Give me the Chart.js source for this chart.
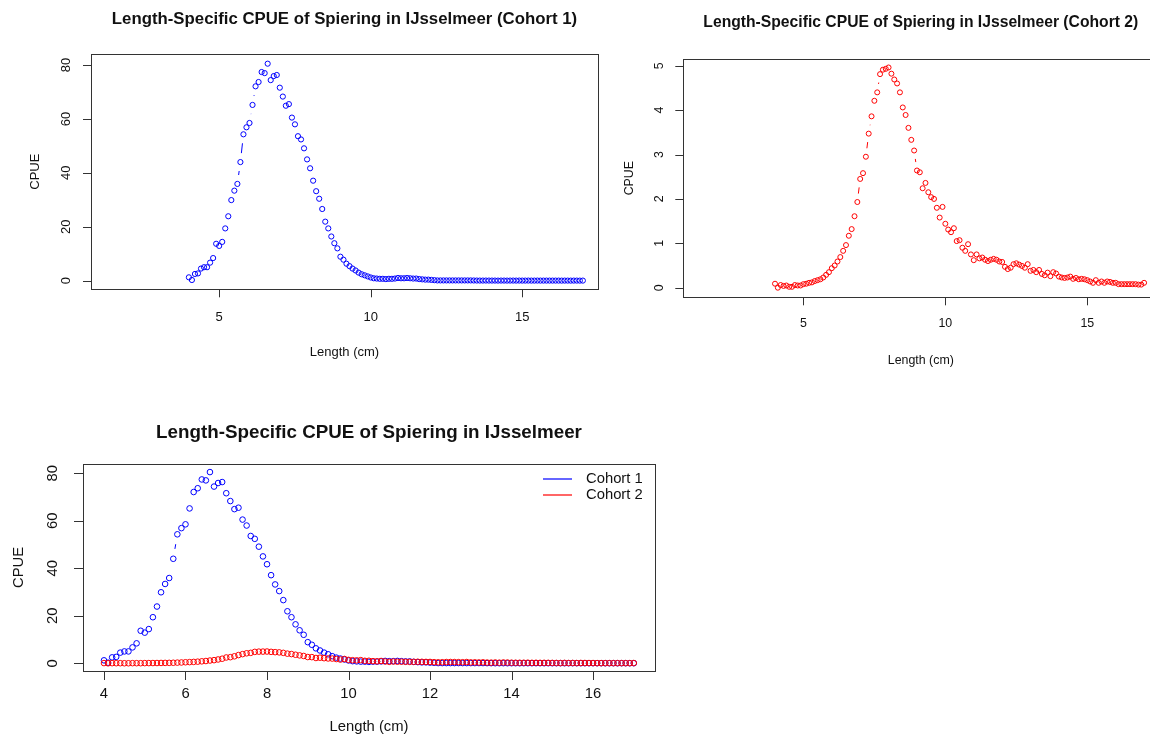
<!DOCTYPE html>
<html>
<head>
<meta charset="utf-8">
<script src="https://cdn.jsdelivr.net/npm/chart.js@4.4.1/dist/chart.umd.min.js"></script>
<style>
html, body { margin:0; padding:0; background:#fff; overflow:hidden; width:1150px; height:735px; }
canvas { position:absolute; left:0; top:0; }
</style>
</head>
<body>
<canvas id="c1" width="1150" height="735"></canvas>
<canvas id="c2" width="1180" height="735"></canvas>
<canvas id="c3" width="1150" height="735"></canvas>
<script>
// ---------------- data ----------------
const lengths = [
  4.0,4.1,4.2,4.3,4.4,4.5,4.6,4.7,4.8,4.9,
  5.0,5.1,5.2,5.3,5.4,5.5,5.6,5.7,5.8,5.9,
  6.0,6.1,6.2,6.3,6.4,6.5,6.6,6.7,6.8,6.9,
  7.0,7.1,7.2,7.3,7.4,7.5,7.6,7.7,7.8,7.9,
  8.0,8.1,8.2,8.3,8.4,8.5,8.6,8.7,8.8,8.9,
  9.0,9.1,9.2,9.3,9.4,9.5,9.6,9.7,9.8,9.9,
  10.0,10.1,10.2,10.3,10.4,10.5,10.6,10.7,10.8,10.9,
  11.0,11.1,11.2,11.3,11.4,11.5,11.6,11.7,11.8,11.9,
  12.0,12.1,12.2,12.3,12.4,12.5,12.6,12.7,12.8,12.9,
  13.0,13.1,13.2,13.3,13.4,13.5,13.6,13.7,13.8,13.9,
  14.0,14.1,14.2,14.3,14.4,14.5,14.6,14.7,14.8,14.9,
  15.0,15.1,15.2,15.3,15.4,15.5,15.6,15.7,15.8,15.9,
  16.0,16.1,16.2,16.3,16.4,16.5,16.6,16.7,16.8,16.9,
  17.0
];

const cpueCohort1 = [
  1.25,0.26,2.5,2.7,4.5,5.0,5.0,6.7,8.4,13.7,
  12.9,14.4,19.4,23.9,29.9,33.4,35.9,44.0,54.3,56.9,
  58.5,65.2,72.1,73.7,77.4,77.0,80.5,74.4,75.9,76.3,
  71.6,68.3,64.9,65.5,60.5,58.0,53.6,52.4,49.1,45.0,
  41.7,37.1,33.2,30.4,26.6,21.9,19.4,16.4,13.9,12.0,
  8.9,7.8,6.3,5.4,4.5,3.8,3.0,2.4,2.0,1.6,
  1.2,0.9,0.8,0.7,0.7,0.6,0.7,0.7,0.8,1.0,
  0.9,0.9,1.0,0.9,0.8,0.8,0.6,0.5,0.4,0.4,
  0.3,0.2,0.1,0.1,0.1,0.1,0.1,0.1,0.1,0.1,
  0.1,0.1,0.1,0.1,0.08,0.06,0.05,0.05,0.06,0.05,
  0.05,0.05,0.04,0.05,0.05,0.04,0.05,0.05,0.04,0.05,
  0.04,0.04,0.05,0.04,0.04,0.05,0.04,0.04,0.04,0.04,
  0.04,0.04,0.04,0.03,0.04,0.04,0.03,0.04,0.04,0.03,
  0.04
];

const cpueCohort2 = [
  0.09,0.00,0.06,0.04,0.05,0.02,0.02,0.06,0.05,0.05,
  0.08,0.09,0.11,0.12,0.15,0.17,0.19,0.23,0.29,0.35,
  0.44,0.50,0.59,0.69,0.83,0.96,1.17,1.32,1.61,1.93,
  2.45,2.58,2.95,3.47,3.86,4.21,4.40,4.81,4.91,4.93,
  4.96,4.82,4.69,4.60,4.40,4.06,3.89,3.60,3.33,3.09,
  2.64,2.60,2.24,2.36,2.15,2.04,2.00,1.80,1.58,1.82,
  1.44,1.31,1.25,1.34,1.05,1.07,0.90,0.83,0.98,0.75,
  0.62,0.75,0.66,0.68,0.63,0.60,0.63,0.65,0.63,
  0.59,0.58,0.47,0.42,0.45,0.53,0.55,0.52,0.49,0.45,0.53,
  0.38,0.40,0.35,0.40,0.31,0.28,0.34,0.26,0.35,0.32,
  0.25,0.23,0.22,0.23,0.25,0.20,0.22,0.19,0.20,0.19,
  0.17,0.14,0.11,0.17,0.11,0.14,0.11,0.14,0.13,0.11,
  0.11,0.08,0.08,0.08,0.08,0.08,0.08,0.08,0.07,0.07,0.11
];

const xTicksSingle = [5, 10, 15];
const xTicksCombined = [4, 6, 8, 10, 12, 14, 16];
const yTicksCohort1 = [0, 20, 40, 60, 80];
const yTicksCohort2 = [0, 1, 2, 3, 4, 5];

const titleCohort1 = 'Length-Specific CPUE of Spiering in IJsselmeer (Cohort 1)';
const titleCohort2 = 'Length-Specific CPUE of Spiering in IJsselmeer (Cohort 2)';
const titleCombined = 'Length-Specific CPUE of Spiering in IJsselmeer';
const xLabel = 'Length (cm)';
const yLabel = 'CPUE';
const seriesNames = ['Cohort 1', 'Cohort 2'];

const toXY = (vals) => lengths.map((x, i) => ({x: x, y: vals[i]}));

// ---------------- R-like frame plugin ----------------
function rFrame(cfg) {
  const FONT = '"Liberation Sans", Arial, sans-serif';
  return {
    id: 'rframe',
    beforeDatasetsDraw(chart) {
      const ctx = chart.ctx, a = chart.chartArea;
      const xs = chart.scales.x, ys = chart.scales.y;
      ctx.save();
      ctx.strokeStyle = '#333';
      ctx.lineWidth = 1;
      ctx.strokeRect(Math.round(a.left) + 0.5, Math.round(a.top) + 0.5,
                     Math.round(a.right - a.left), Math.round(a.bottom - a.top));
      ctx.beginPath();
      cfg.xTicks.forEach(v => {
        const px = Math.round(xs.getPixelForValue(v)) + 0.5;
        ctx.moveTo(px, a.bottom);
        ctx.lineTo(px, a.bottom + cfg.tickLen);
      });
      cfg.yTicks.forEach(v => {
        const py = Math.round(ys.getPixelForValue(v)) + 0.5;
        ctx.moveTo(a.left - cfg.tickLen, py);
        ctx.lineTo(a.left, py);
      });
      ctx.stroke();

      // type = "b": line pieces between points, cut back near each point
      ctx.beginPath();
      ctx.rect(a.left, a.top, a.right - a.left, a.bottom - a.top);
      ctx.clip();
      chart.data.datasets.forEach((ds, i) => {
        const pts = chart.getDatasetMeta(i).data;
        ctx.strokeStyle = ds.borderColor;
        ctx.beginPath();
        for (let j = 0; j < pts.length - 1; j++) {
          const p = pts[j], q = pts[j + 1];
          const dx = q.x - p.x, dy = q.y - p.y, d = Math.hypot(dx, dy);
          if (d <= 2 * cfg.gap) continue;
          const ux = dx / d, uy = dy / d;
          ctx.moveTo(p.x + ux * cfg.gap, p.y + uy * cfg.gap);
          ctx.lineTo(q.x - ux * cfg.gap, q.y - uy * cfg.gap);
        }
        ctx.stroke();
      });
      ctx.restore();
    },
    afterDraw(chart) {
      const ctx = chart.ctx, a = chart.chartArea;
      const xs = chart.scales.x, ys = chart.scales.y;
      const cx = (a.left + a.right) / 2, cy = (a.top + a.bottom) / 2;
      ctx.save();
      ctx.fillStyle = '#111';
      ctx.textBaseline = 'middle';
      ctx.textAlign = 'center';

      ctx.font = 'bold ' + cfg.titleSize + 'px ' + FONT;
      ctx.fillText(cfg.title, cx, cfg.titleY);

      ctx.font = cfg.labelSize + 'px ' + FONT;
      cfg.xTicks.forEach(v => ctx.fillText(String(v), xs.getPixelForValue(v), cfg.xTickY));
      ctx.fillText(xLabel, cx, cfg.xLabelY);

      cfg.yTicks.forEach(v => {
        ctx.save();
        ctx.translate(cfg.yTickX, ys.getPixelForValue(v));
        ctx.rotate(-Math.PI / 2);
        ctx.fillText(String(v), 0, 0);
        ctx.restore();
      });
      ctx.save();
      ctx.translate(cfg.yLabelX, cy);
      ctx.rotate(-Math.PI / 2);
      ctx.fillText(yLabel, 0, 0);
      ctx.restore();

      if (cfg.legend) {
        const L = cfg.legend;
        chart.data.datasets.forEach((ds, i) => {
          const y = L.y + i * L.step;
          ctx.strokeStyle = ds.pointBorderColor;
          ctx.lineWidth = 1.2;
          ctx.beginPath();
          ctx.moveTo(L.x1, y);
          ctx.lineTo(L.x2, y);
          ctx.stroke();
          ctx.textAlign = 'left';
          ctx.font = L.size + 'px ' + FONT;
          ctx.fillStyle = '#111';
          ctx.fillText(ds.label, L.tx, y);
        });
      }
      ctx.restore();
    }
  };
}

function dataset(label, vals, color, r, order) {
  return {
    label: label,
    data: toXY(vals),
    borderColor: color,
    pointBorderColor: color,
    pointBackgroundColor: 'rgba(0,0,0,0)',
    pointRadius: r,
    pointBorderWidth: 1,
    pointHoverRadius: r,
    showLine: false,
    order: order
  };
}

function makeChart(id, area, xr, yr, datasets, cfg) {
  const cv = document.getElementById(id);
  return new Chart(cv, {
    type: 'scatter',
    data: {datasets: datasets},
    options: {
      responsive: false,
      animation: false,
      devicePixelRatio: 1,
      layout: {padding: {left: area.left, top: area.top,
                         right: cv.width - area.right, bottom: cv.height - area.bottom}},
      plugins: {legend: {display: false}, tooltip: {enabled: false}, title: {display: false}},
      scales: {
        x: {type: 'linear', display: false, min: xr[0], max: xr[1]},
        y: {type: 'linear', display: false, min: yr[0], max: yr[1]}
      }
    },
    plugins: [rFrame(cfg)]
  });
}

// top left: cohort 1
makeChart('c1', {left: 91, top: 54, right: 598, bottom: 289.3}, [0.77, 17.5], [-3.19, 84.09],
  [dataset(seriesNames[0], cpueCohort1, '#0000ff', 2.6, 1)],
  {title: titleCohort1, titleSize: 16.8, titleY: 19, labelSize: 13,
   xTicks: xTicksSingle, yTicks: yTicksCohort1, tickLen: 8, gap: 9,
   xTickY: 317, xLabelY: 352, yTickX: 66.5, yLabelX: 35});

// top right: cohort 2
makeChart('c2', {left: 683.3, top: 59, right: 1158.3, bottom: 297.3}, [0.77, 17.5], [-0.216, 5.151],
  [dataset(seriesNames[1], cpueCohort2, '#ff0000', 2.5, 1)],
  {title: titleCohort2, titleSize: 15.7, titleY: 23, labelSize: 12.4,
   xTicks: xTicksSingle, yTicks: yTicksCohort2, tickLen: 8, gap: 8.5,
   xTickY: 324, xLabelY: 361, yTickX: 660, yLabelX: 630});

// bottom: both cohorts
makeChart('c3', {left: 83, top: 464, right: 655, bottom: 671}, [3.485, 17.52], [-3.24, 83.9],
  [dataset(seriesNames[0], cpueCohort1, '#0000ff', 2.8, 2),
   dataset(seriesNames[1], cpueCohort2, '#ff0000', 2.8, 1)],
  {title: titleCombined, titleSize: 18.8, titleY: 433, labelSize: 14.8,
   xTicks: xTicksCombined, yTicks: yTicksCohort1, tickLen: 9, gap: 10,
   xTickY: 694, xLabelY: 727, yTickX: 53.3, yLabelX: 18.5,
   legend: {x1: 543, x2: 572, tx: 586, y: 479, step: 16, size: 14.8}});
</script>
</body>
</html>
